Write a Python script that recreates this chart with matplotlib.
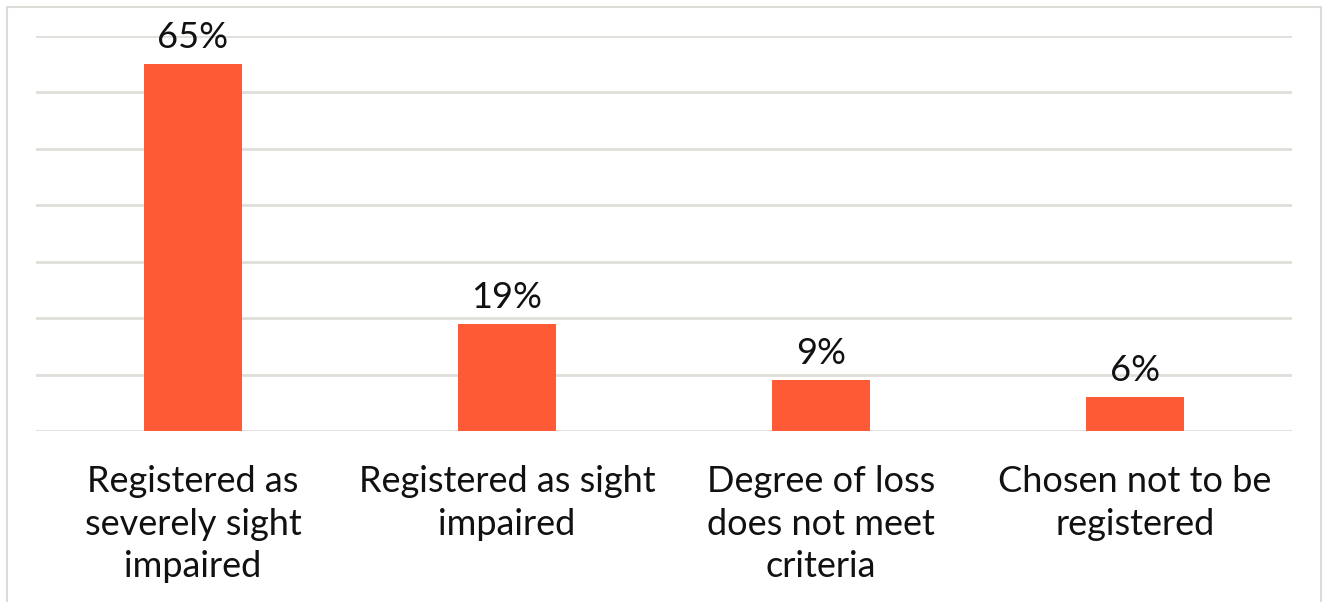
import numpy as np
import matplotlib.pyplot as plt
from matplotlib.patches import Rectangle

categories = ['Registered as\nseverely sight\nimpaired', 'Registered as sight\nimpaired',
              'Degree of loss\ndoes not meet\ncriteria', 'Chosen not to be\nregistered']
values = [65, 19, 9, 6]
labels = ['65%', '19%', '9%', '6%']

plt.rcParams['font.family'] = ['Lato', 'DejaVu Sans']

W, H = 1327, 602
fig = plt.figure(figsize=(W / 100, H / 100), dpi=100)
ax = fig.add_axes([36 / W, (H - 431) / H, (1292 - 36) / W, (431 - 36) / H])

x = np.arange(len(categories))
bars = ax.bar(x, values, width=0.31, color='#ff5a36', zorder=3)

for b, lab in zip(bars, labels):
    ax.annotate(lab, (b.get_x() + b.get_width() / 2, b.get_height()),
                xytext=(0, 7), textcoords='offset points',
                ha='center', va='bottom', fontsize=26, color='#111111')

ax.set_xlim(-0.5, len(categories) - 0.5)
ax.set_ylim(0, 70)
ax.set_yticks(np.arange(0, 71, 10))
ax.yaxis.grid(True, color='#e0ded9', linewidth=2, zorder=0)
ax.tick_params(axis='y', left=False, labelleft=False)
ax.set_xticks(x)
ax.set_xticklabels(categories, fontsize=26, color='#111111', linespacing=1.36)
ax.tick_params(axis='x', bottom=False, pad=21)
for s in ax.spines.values():
    s.set_visible(False)

# outer chart border
fig.patches.append(Rectangle((7 / W, -0.1), (1321 - 7) / W, (H - 7) / H + 0.1,
                             transform=fig.transFigure, fill=False,
                             edgecolor='#dddbd6', linewidth=1.5))

fig.savefig('out.png', dpi=100)
